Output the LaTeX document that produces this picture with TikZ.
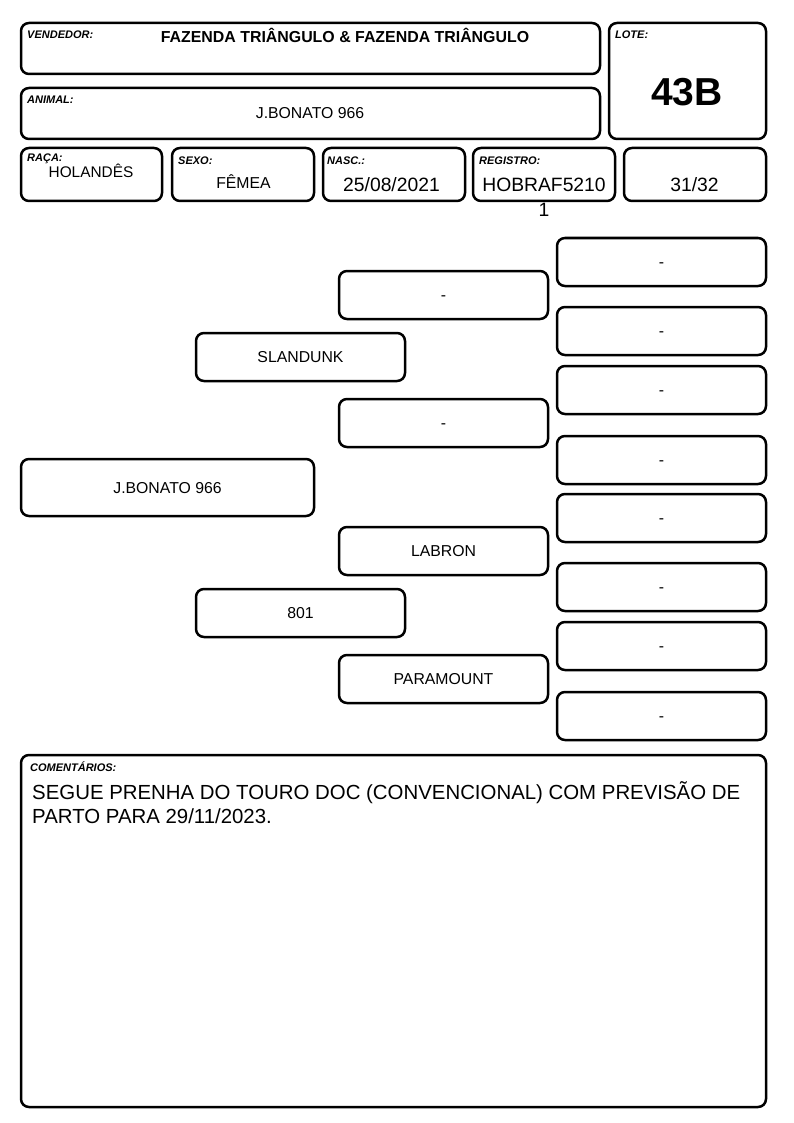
\documentclass[tikz,border=0pt]{standalone}
\usepackage{fontspec}
\setmainfont{Liberation Sans}
\begin{document}
\begin{tikzpicture}[x=1pt,y=-1pt,
  box/.style={draw, line width=2.5pt, rounded corners=8pt, inner sep=0pt, align=center, text height=11.4pt, text depth=0pt, font=\fontsize{15.8}{18}\selectfont},
  lbl/.style={anchor=base west, inner sep=0pt, font=\fontsize{11}{13}\selectfont\bfseries\itshape},
  val/.style={anchor=base, inner sep=0pt, font=\fontsize{15.8}{18}\selectfont},
  bigval/.style={anchor=base, inner sep=0pt, font=\fontsize{19.3}{22}\selectfont}]
\newcommand\mybox[6]{\node[box, minimum width={#4-#2}, minimum height={#5-#3}] (#1) at ({(#2+#4)/2},{(#3+#5)/2}) {#6};}
\useasboundingbox (0,0) rectangle (794,1123);
% header
\mybox{vend}{21}{23}{600}{74}{}
\mybox{lote}{609}{23}{766}{139}{}
\mybox{anim}{21}{88}{600}{139}{}
\mybox{raca}{21}{148}{162}{201}{}
\mybox{sexo}{172}{148}{314}{201}{}
\mybox{nasc}{323}{148}{465}{201}{}
\mybox{reg}{473}{148}{615}{201}{}
\mybox{grau}{624}{148}{766}{201}{}
\node[lbl] (lvend) at (27,39) {VENDEDOR:};
\node[anchor=base, inner sep=0pt, font=\fontsize{15.9}{19}\selectfont\bfseries] (tvend) at (345,43) {FAZENDA TRIÂNGULO \& FAZENDA TRIÂNGULO};
\node[lbl] (llote) at (615,39) {LOTE:};
\node[anchor=base, inner sep=0pt, font=\fontsize{39}{44}\selectfont\bfseries] (tlote) at (687,105.5) {43B};
\node[lbl] (lanim) at (27,104) {ANIMAL:};
\node[val] (tanim) at (310,119) {J.BONATO 966};
\node[lbl] (lraca) at (27,162) {RAÇA:};
\node[anchor=base, inner sep=0pt, font=\fontsize{15.4}{18}\selectfont] (traca) at (91,178) {HOLANDÊS};
\node[lbl] (lsexo) at (178,165) {SEXO:};
\node[val] (tsexo) at (243.5,189) {FÊMEA};
\node[lbl] (lnasc) at (327,165) {NASC.:};
\node[bigval] (tnasc) at (391.5,192) {25/08/2021};
\node[lbl] (lreg) at (479,165) {REGISTRO:};
\node[bigval] (treg) at (544,192) {HOBRAF5210};
\node[bigval] (treg2) at (544,216.5) {1};
\node[bigval] (tgrau) at (694.5,192) {31/32};
% pedigree
\mybox{p}{21}{459}{314}{516}{J.BONATO 966}
\mybox{s}{196}{333}{405}{381}{SLANDUNK}
\mybox{d}{196}{589}{405}{637}{801}
\mybox{ss}{339}{271}{548}{319}{-}
\mybox{sd}{339}{399}{548}{447}{-}
\mybox{ds}{339}{527}{548}{575}{LABRON}
\mybox{dd}{339}{655}{548}{703}{PARAMOUNT}
\mybox{sss}{557}{238}{766}{286}{-}
\mybox{ssd}{557}{307}{766}{355}{-}
\mybox{sds}{557}{366}{766}{414}{-}
\mybox{sdd}{557}{436}{766}{484}{-}
\mybox{dss}{557}{494}{766}{542}{-}
\mybox{dsd}{557}{563}{766}{611}{-}
\mybox{dds}{557}{622}{766}{670}{-}
\mybox{ddd}{557}{692}{766}{740}{-}
% comments
\mybox{com}{21}{755}{766}{1107}{}
\node[lbl] (lcom) at (30,771) {COMENTÁRIOS:};
\node[anchor=base west, inner sep=0pt, font=\fontsize{20.4}{24}\selectfont] (tcom1) at (32,799) {SEGUE PRENHA DO TOURO DOC (CONVENCIONAL) COM PREVISÃO DE};
\node[anchor=base west, inner sep=0pt, font=\fontsize{20.4}{24}\selectfont] (tcom2) at (32,823) {PARTO PARA 29/11/2023.};
\end{tikzpicture}
\end{document}
